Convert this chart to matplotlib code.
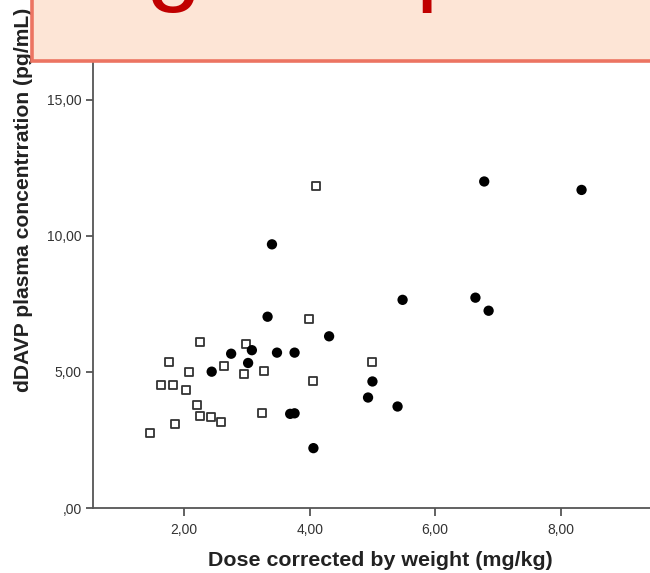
import matplotlib
matplotlib.use("Agg")
import matplotlib.pyplot as plt
from matplotlib.patches import Rectangle

# open squares
sq_dose = [2.25, 2.99, 1.76, 2.08, 2.63, 2.96, 3.28, 4.06, 1.64, 1.82, 2.03,
           2.21, 2.25, 2.43, 2.59, 3.24, 1.85, 1.46, 4.10, 3.99, 5.00]
sq_conc = [6.09, 6.03, 5.36, 5.01, 5.21, 4.93, 5.05, 4.68, 4.52, 4.52, 4.34,
           3.80, 3.37, 3.33, 3.15, 3.50, 3.09, 2.77, 11.84, 6.95, 5.37]

# filled circles
ci_dose = [2.75, 3.08, 3.48, 3.76, 3.02, 2.44, 3.69, 3.76, 4.06, 4.31, 3.33,
           3.40, 6.78, 8.33, 5.48, 6.64, 6.85, 5.00, 4.93, 5.40]
ci_conc = [5.67, 5.80, 5.71, 5.71, 5.33, 5.01, 3.46, 3.48, 2.20, 6.31, 7.03,
           9.69, 12.00, 11.69, 7.65, 7.73, 7.25, 4.65, 4.06, 3.73]

x_ticks = [2, 4, 6, 8]
x_tick_labels = ["2,00", "4,00", "6,00", "8,00"]
y_ticks = [0, 5, 10, 15]
y_tick_labels = [",00", "5,00", "10,00", "15,00"]

plt.rcParams['font.family'] = ['Liberation Sans', 'DejaVu Sans']

fig = plt.figure(figsize=(6.5, 5.73), dpi=100)
ax = fig.add_axes([93 / 650, 65 / 573, 1 - 93 / 650, 468 / 573])

ax.scatter(sq_dose, sq_conc, marker='s', s=40, facecolor='white',
           edgecolor='#333333', linewidth=1.3, zorder=3)
ax.scatter(ci_dose, ci_conc, marker='o', s=55, color='black',
           edgecolor='none', zorder=3)

ax.set_xlim(0.55, 9.42)
ax.set_ylim(0, 17.2)
ax.set_xticks(x_ticks)
ax.set_xticklabels(x_tick_labels)
ax.set_yticks(y_ticks)
ax.set_yticklabels(y_tick_labels)

for s in ['top', 'right']:
    ax.spines[s].set_visible(False)
for s in ['left', 'bottom']:
    ax.spines[s].set_color('#555555')
    ax.spines[s].set_linewidth(1.3)
ax.tick_params(axis='both', colors='#555555', width=1.3, labelsize=10,
               labelcolor='#333333')
ax.tick_params(axis='y', length=5, pad=3)
ax.tick_params(axis='x', length=6, pad=5)

fig.text(380 / 650, 1 - 560 / 573, 'Dose corrected by weight (mg/kg)',
         ha='center', va='center', fontsize=15.4, fontweight='bold', color='#222222')
fig.text(24 / 650, 1 - 200 / 573, 'dDAVP plasma concentrration (pg/mL)',
         ha='center', va='center', rotation=90, fontsize=15.2,
         fontweight='bold', color='#222222')

# banner across the top (title text mostly cut off above the picture)
banner = Rectangle((32 / 650, 1 - 61 / 573), 1.0, 0.2, transform=fig.transFigure,
                   facecolor='#FDE5D6', edgecolor='#EC7462', linewidth=2.6,
                   zorder=10)
fig.patches.append(banner)
fig.text(146 / 650, 1 + 8 / 573, 'g', fontsize=72, color='#C00000',
         ha='left', va='baseline', zorder=11)
fig.text(416 / 650, 1 + 8 / 573, 'p', fontsize=72, color='#C00000',
         ha='left', va='baseline', zorder=11)

fig.savefig('out.png', dpi=100)
